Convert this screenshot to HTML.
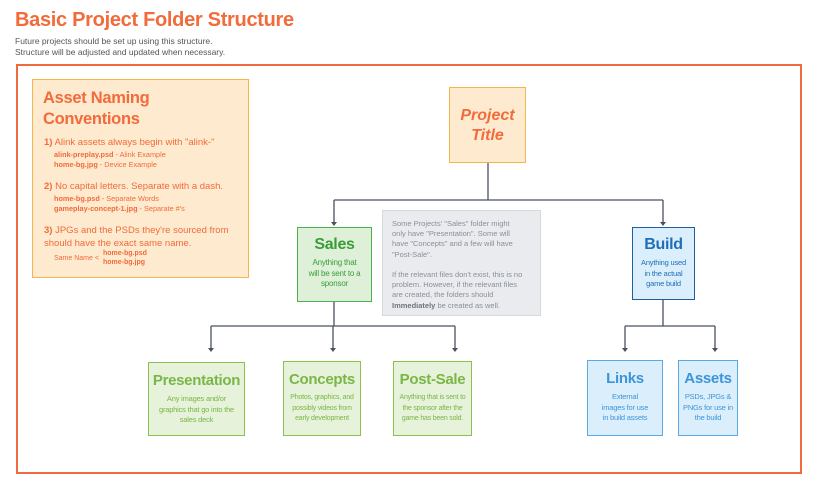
<!DOCTYPE html>
<html><head><meta charset="utf-8"><style>
body{margin:0;width:820px;height:495px;background:#fff;font-family:"Liberation Sans",sans-serif;position:relative;overflow:hidden}
.a{position:absolute}
.box{position:absolute;box-sizing:border-box;text-align:center;white-space:nowrap}
.g{background:#e6f2d9;border:1.5px solid #8cc152;color:#7ab648}
.b{background:#dbeefc;border:1.5px solid #5aa9e6;color:#3d95d9}
.h{font-weight:bold;letter-spacing:-0.3px}
.s{font-size:7.5px;line-height:10.5px;letter-spacing:-0.2px}
</style></head><body>
<div class="a h" style="left:15px;top:9px;font-size:20px;color:#f26b3a">Basic Project Folder Structure</div>
<div class="a" style="left:15px;top:36px;font-size:8.5px;line-height:11px;color:#555">Future projects should be set up using this structure.<br>Structure will be adjusted and updated when necessary.</div>
<div class="a" style="left:16px;top:64px;width:786px;height:410px;border:2px solid #f06a3e;box-sizing:border-box"></div>

<div class="a" style="left:32px;top:79px;width:217px;height:199px;background:#fdeacf;border:1.5px solid #f5b44c;box-sizing:border-box;color:#f26b3a;white-space:nowrap">
 <div class="h" style="position:absolute;left:10px;top:8px;font-size:16.5px;line-height:21px">Asset Naming<br>Conventions</div>
 <div style="position:absolute;left:11px;top:57px;font-size:9.5px;line-height:12px"><b>1)</b> Alink assets always begin with "alink-"</div>
 <div style="position:absolute;left:21px;top:70px;font-size:7.3px;line-height:10px"><b>alink-preplay.psd</b> - Alink Example<br><b>home-bg.jpg</b> - Device Example</div>
 <div style="position:absolute;left:11px;top:101px;font-size:9.5px;line-height:12px"><b>2)</b> No capital letters. Separate with a dash.</div>
 <div style="position:absolute;left:21px;top:114px;font-size:7.3px;line-height:10px"><b>home-bg.psd</b> - Separate Words<br><b>gameplay-concept-1.jpg</b> - Separate #'s</div>
 <div style="position:absolute;left:11px;top:145px;font-size:9.5px;line-height:12.5px"><b>3)</b> JPGs and the PSDs they're sourced from<br>should have the exact same name.</div>
 <div style="position:absolute;left:21px;top:174px;font-size:7px;line-height:9px">Same Name &lt;</div>
 <div style="position:absolute;left:70px;top:169px;font-size:7px;line-height:9px;font-weight:bold">home-bg.psd<br>home-bg.jpg</div>
</div>

<svg class="a" style="left:0;top:0" width="820" height="495">
<g stroke="#4a5060" stroke-width="1.3" fill="none">
<path d="M488 163V200M334 200H663M334 200V224M663 200V224"/>
<path d="M334 302V326M211 326H455M211 326V350M333 326V350M455 326V350"/>
<path d="M663 300V326M625 326H715M625 326V350M715 326V350"/>
</g>
<g fill="#4a5060">
<path d="M331 222h6l-3 4z"/><path d="M660 222h6l-3 4z"/>
<path d="M208 348h6l-3 4z"/><path d="M330 348h6l-3 4z"/><path d="M452 348h6l-3 4z"/>
<path d="M622 348h6l-3 4z"/><path d="M712 348h6l-3 4z"/>
</g></svg>

<div class="box" style="left:449px;top:87px;width:77px;height:76px;background:#fdeacf;border:1.5px solid #f5b44c;color:#f26b3a;font-weight:bold;font-style:italic;font-size:16px;line-height:20px;padding-top:18px">Project<br>Title</div>

<div class="box" style="left:297px;top:227px;width:75px;height:75px;background:#dff0d8;border:1.5px solid #4cae4c;color:#3a9d3a">
 <div class="h" style="font-size:16px;margin-top:8px">Sales</div>
 <div class="s" style="margin-top:4px;font-size:8px">Anything that<br>will be sent to a<br>sponsor</div></div>

<div class="a" style="left:382px;top:210px;width:159px;height:106px;background:#e9ebef;border:1px solid #d6d9de;box-sizing:border-box;color:#8a8f99;font-size:7.5px;line-height:10.2px;padding:8px 0 0 9px;white-space:nowrap">Some Projects' "Sales" folder might<br>only have "Presentation". Some will<br>have "Concepts" and a few will have<br>"Post-Sale".<br><br>If the relevant files don't exist, this is no<br>problem. However, if the relevant files<br>are created, the folders should<br><b style="color:#6f747e">Immediately</b> be created as well.</div>

<div class="box" style="left:632px;top:227px;width:63px;height:73px;background:#dbeefc;border:1.5px solid #1f5f9e;color:#1e6fb8">
 <div class="h" style="font-size:16px;margin-top:8px">Build</div>
 <div class="s" style="margin-top:4px">Anything used<br>in the actual<br>game build</div></div>

<div class="box g" style="left:148px;top:362px;width:97px;height:74px">
 <div class="h" style="font-size:15px;margin-top:9px">Presentation</div>
 <div class="s" style="margin-top:5px">Any images and/or<br>graphics that go into the<br>sales deck</div></div>
<div class="box g" style="left:283px;top:361px;width:78px;height:75px">
 <div class="h" style="font-size:15px;margin-top:9px">Concepts</div>
 <div class="s" style="margin-top:5px;font-size:7px">Photos, graphics, and<br>possibly videos from<br>early development</div></div>
<div class="box g" style="left:393px;top:361px;width:79px;height:75px">
 <div class="h" style="font-size:15px;margin-top:9px">Post-Sale</div>
 <div class="s" style="margin-top:5px;font-size:7px">Anything that is sent to<br>the sponsor after the<br>game has been sold.</div></div>

<div class="box b" style="left:587px;top:360px;width:76px;height:76px">
 <div class="h" style="font-size:15px;margin-top:9px">Links</div>
 <div class="s" style="margin-top:5px">External<br>images for use<br>in build assets</div></div>
<div class="box b" style="left:678px;top:360px;width:60px;height:76px">
 <div class="h" style="font-size:15px;margin-top:9px">Assets</div>
 <div class="s" style="margin-top:5px">PSDs, JPGs &amp;<br>PNGs for use in<br>the build</div></div>
</body></html>
